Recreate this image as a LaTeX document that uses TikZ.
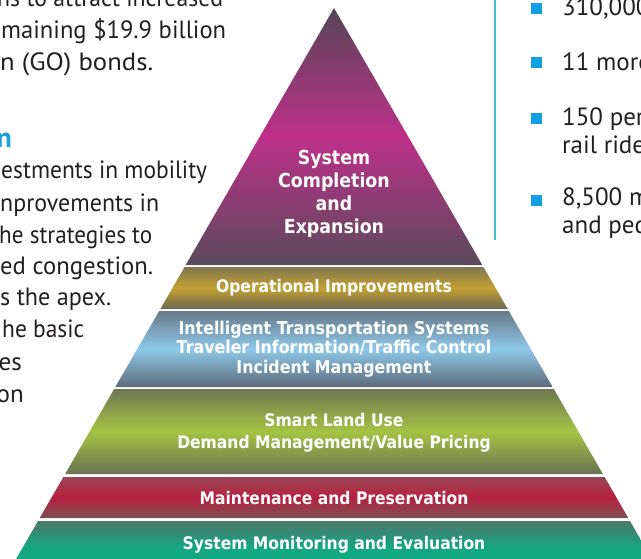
\documentclass[tikz,border=0pt]{standalone}
\usepackage{graphicx}
\usepackage{fontspec}
\setmainfont{PT Sans}
\newfontfamily\pyr[FakeStretch=0.9]{DejaVu Sans}
\definecolor{txt}{HTML}{231F20}
\definecolor{hblue}{HTML}{1AA0DC}
\definecolor{sqblue}{HTML}{0EA0E0}
\definecolor{vline}{HTML}{44C2CA}
\definecolor{pa}{HTML}{564656}\definecolor{pb}{HTML}{BE308A}\definecolor{pc}{HTML}{5A4A5A}
\definecolor{oa}{HTML}{807650}\definecolor{ob}{HTML}{C4A032}\definecolor{oc}{HTML}{6C6850}
\definecolor{ia}{HTML}{687A8A}\definecolor{ib}{HTML}{8EC8EA}\definecolor{ic}{HTML}{5C6A78}
\definecolor{ga}{HTML}{6E7852}\definecolor{gb}{HTML}{A4C444}\definecolor{gc}{HTML}{6A7252}
\definecolor{ma}{HTML}{9A4656}\definecolor{mb}{HTML}{B82040}\definecolor{mc}{HTML}{7A5052}
\definecolor{sa}{HTML}{4E7868}\definecolor{sb}{HTML}{12A882}\definecolor{sc}{HTML}{12A882}
\newcommand\pband[5]{%
  \pgfmathsetmacro\pxa{334-0.577*(#1-8)}%
  \pgfmathsetmacro\pxb{334+0.577*(#1-8)}%
  \pgfmathsetmacro\pxc{334+0.577*(#2-8)}%
  \pgfmathsetmacro\pxd{334-0.577*(#2-8)}%
  \shade[top color=#3, bottom color=#5, middle color=#4]
    (\pxa,#1) -- (\pxb,#1) -- (\pxc,#2) -- (\pxd,#2) -- cycle;}
\newcommand\jline[2]{\resizebox{#1pt}{\height}{#2}}
\begin{document}
\begin{tikzpicture}[x=1pt,y=-1pt,
  body/.style={font=\fontsize{25}{32}\selectfont, text=txt, inner sep=0pt},
  lbl/.style={font=\pyr\bfseries\fontsize{17.3}{20}\selectfont, text=white, align=center, inner sep=0pt},
  sqr/.style={fill=sqblue, minimum size=11pt, inner sep=0pt, draw=none}]
\useasboundingbox (0,0) rectangle (641,558);
\clip (0,0) rectangle (641,558);
% pyramid
\pgfmathsetmacro\pxe{334+0.577*(265-8)}
\pgfmathsetmacro\pxf{334-0.577*(265-8)}
\shade[top color=pa, bottom color=pc, middle color=pb]
  (334,8) -- (\pxe,265) -- (\pxf,265) -- cycle;
\pband{267}{309}{oa}{ob}{oc}
\pband{311}{387}{ia}{ib}{ic}
\pband{389}{474}{ga}{gb}{gc}
\pband{477}{518}{ma}{mb}{mc}
\pband{521}{575}{sa}{sb}{sc}
% pyramid labels
\node[lbl, font=\pyr\bfseries\fontsize{19.3}{23}\selectfont] (l1) at (334,194) {System\\Completion\\and\\Expansion};
\node[lbl] (l2) at (334,288) {Operational Improvements};
\node[lbl, font=\pyr\bfseries\fontsize{17.6}{19.5}\selectfont] (l3) at (334,349) {Intelligent Transportation Systems\\Traveler Information/Traffic Control\\Incident Management};
\node[lbl, font=\pyr\bfseries\fontsize{17.3}{22}\selectfont] (l4) at (334,433) {Smart Land Use\\Demand Management/Value Pricing};
\node[lbl] (l5) at (334,498) {Maintenance and Preservation};
\node[lbl] (l6) at (334,545) {System Monitoring and Evaluation};
% left text
\node[body, anchor=base west] (t1) at (-3,6) {\jline{226}{ns to attract increased}};
\node[body, anchor=base west] (t2) at (1,38) {\jline{225}{maining \$19.9 billion}};
\node[body, anchor=base west] (t3) at (0,70) {\jline{153}{n (GO) bonds.}};
\node[body, anchor=base east, text=hblue, font=\bfseries\fontsize{28}{32}\selectfont] (h1) at (12,147) {n};
\node[body, anchor=base west] (t4) at (1,178) {\jline{206}{estments in mobility}};
\node[body, anchor=base west] (t5) at (0,211) {\jline{159}{nprovements in}};
\node[body, anchor=base west] (t6) at (-1,243) {\jline{153}{he strategies to}};
\node[body, anchor=base west] (t7) at (0,274) {\jline{153}{ed congestion.}};
\node[body, anchor=base west] (t8) at (0,305) {\jline{111}{s the apex.}};
\node[body, anchor=base west] (t9) at (2,337) {\jline{82}{he basic}};
\node[body, anchor=base east] (t10) at (22,370) {es};
\node[body, anchor=base east] (t11) at (24,402) {on};
% right column
\coordinate (vtop) at (495,0);
\coordinate (vbot) at (495,240);
\draw[vline, line width=1.6pt] (vtop) -- (vbot);
\node[sqr] (s1) at (536.5,8) {};
\node[sqr] (s2) at (536.5,62.5) {};
\node[sqr] (s3) at (536.5,118) {};
\node[sqr] (s4) at (536.5,200) {};
\node[body, anchor=base west] (r1) at (562,15) {310,000};
\node[body, anchor=base west] (r2) at (562,70) {11 more};
\node[body, anchor=base west] (r3) at (562,125) {150 per};
\node[body, anchor=base west] (r4) at (562,153) {rail ride};
\node[body, anchor=base west] (r5) at (562,205) {8,500 m};
\node[body, anchor=base west] (r6) at (562,233) {and ped};
\end{tikzpicture}
\end{document}
